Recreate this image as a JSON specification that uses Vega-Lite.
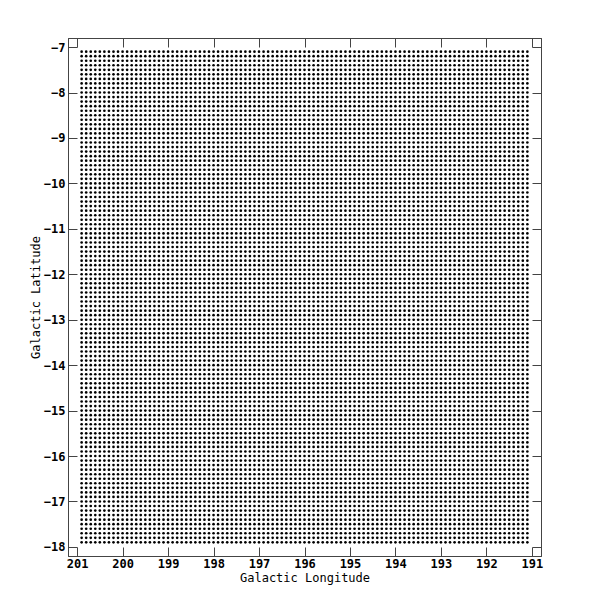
{
  "$schema": "https://vega.github.io/schema/vega-lite/v6.json",
  "autosize": "none",
  "width": 473,
  "height": 518,
  "padding": {"left": 68, "top": 38, "right": 54, "bottom": 44},
  "background": "white",
  "config": {
    "view": {"stroke": "#444", "strokeWidth": 1},
    "axis": {
      "domainColor": "#444",
      "tickColor": "#444",
      "tickSize": -9,
      "grid": false,
      "labelFont": "DejaVu Sans Mono",
      "labelFontWeight": "bold",
      "labelFontSize": 12,
      "labelColor": "black",
      "titleFont": "DejaVu Sans Mono",
      "titleFontWeight": "normal",
      "titleFontSize": 12,
      "titleColor": "black"
    }
  },
  "data": {
    "values": [
      {
        "l": [191.1,191.2,191.3,191.4,191.5,191.6,191.7,191.8,191.9,
              192,192.1,192.2,192.3,192.4,192.5,192.6,192.7,192.8,192.9,
              193,193.1,193.2,193.3,193.4,193.5,193.6,193.7,193.8,193.9,
              194,194.1,194.2,194.3,194.4,194.5,194.6,194.7,194.8,194.9,
              195,195.1,195.2,195.3,195.4,195.5,195.6,195.7,195.8,195.9,
              196,196.1,196.2,196.3,196.4,196.5,196.6,196.7,196.8,196.9,
              197,197.1,197.2,197.3,197.4,197.5,197.6,197.7,197.8,197.9,
              198,198.1,198.2,198.3,198.4,198.5,198.6,198.7,198.8,198.9,
              199,199.1,199.2,199.3,199.4,199.5,199.6,199.7,199.8,199.9,
              200,200.1,200.2,200.3,200.4,200.5,200.6,200.7,200.8,200.9],
        "b": [-7.1,-7.2,-7.3,-7.4,-7.5,-7.6,-7.7,-7.8,-7.9,
              -8,-8.1,-8.2,-8.3,-8.4,-8.5,-8.6,-8.7,-8.8,-8.9,
              -9,-9.1,-9.2,-9.3,-9.4,-9.5,-9.6,-9.7,-9.8,-9.9,
              -10,-10.1,-10.2,-10.3,-10.4,-10.5,-10.6,-10.7,-10.8,-10.9,
              -11,-11.1,-11.2,-11.3,-11.4,-11.5,-11.6,-11.7,-11.8,-11.9,
              -12,-12.1,-12.2,-12.3,-12.4,-12.5,-12.6,-12.7,-12.8,-12.9,
              -13,-13.1,-13.2,-13.3,-13.4,-13.5,-13.6,-13.7,-13.8,-13.9,
              -14,-14.1,-14.2,-14.3,-14.4,-14.5,-14.6,-14.7,-14.8,-14.9,
              -15,-15.1,-15.2,-15.3,-15.4,-15.5,-15.6,-15.7,-15.8,-15.9,
              -16,-16.1,-16.2,-16.3,-16.4,-16.5,-16.6,-16.7,-16.8,-16.9,
              -17,-17.1,-17.2,-17.3,-17.4,-17.5,-17.6,-17.7,-17.8,-17.9]
      }
    ]
  },
  "transform": [{"flatten": ["l"]}, {"flatten": ["b"]}],
  "layer": [
    {
      "mark": {"type": "circle", "color": "black", "size": 7, "opacity": 1},
      "encoding": {
        "x": {
          "field": "l", "type": "quantitative",
          "scale": {"domain": [190.8, 201.2], "reverse": true, "nice": false, "zero": false},
          "axis": {"orient": "bottom", "title": "Galactic Longitude", "values": [191,192,193,194,195,196,197,198,199,200,201], "format": "d", "labelPadding": 11, "titlePadding": 3}
        },
        "y": {
          "field": "b", "type": "quantitative",
          "scale": {"domain": [-18.2, -6.8], "nice": false, "zero": false},
          "axis": {"orient": "left", "title": "Galactic Latitude", "values": [-18,-17,-16,-15,-14,-13,-12,-11,-10,-9,-8,-7], "format": "d", "labelPadding": 12, "titlePadding": 1}
        }
      }
    },
    {
      "mark": {"type": "circle", "opacity": 0},
      "encoding": {
        "x": {
          "field": "l", "type": "quantitative",
          "scale": {"domain": [190.8, 201.2], "reverse": true, "nice": false, "zero": false},
          "axis": {"orient": "top", "title": null, "labels": false, "values": [191,192,193,194,195,196,197,198,199,200,201]}
        },
        "y": {
          "field": "b", "type": "quantitative",
          "scale": {"domain": [-18.2, -6.8], "nice": false, "zero": false},
          "axis": {"orient": "right", "title": null, "labels": false, "values": [-18,-17,-16,-15,-14,-13,-12,-11,-10,-9,-8,-7]}
        }
      }
    }
  ],
  "resolve": {"axis": {"x": "independent", "y": "independent"}}
}
